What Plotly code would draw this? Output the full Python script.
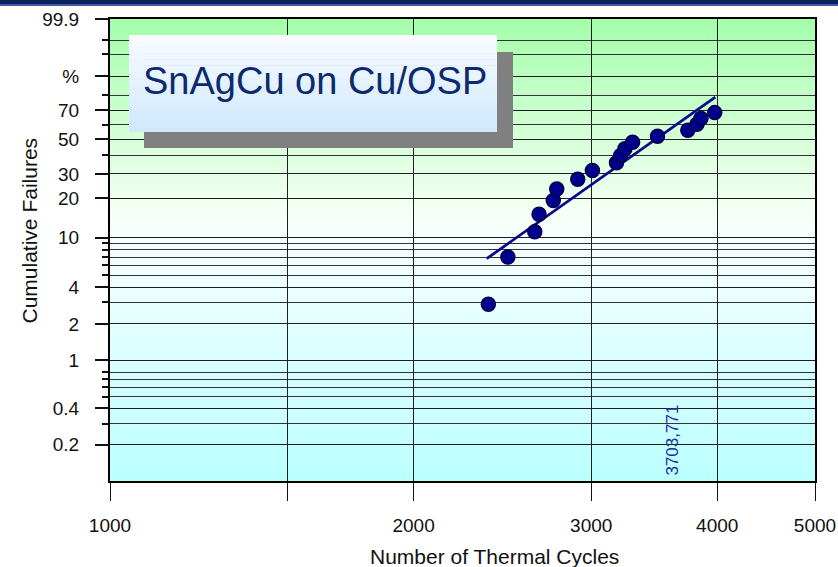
import math
import plotly.graph_objects as go

# ---------------- data ----------------
cycles = [2372, 2480, 2637, 2663, 2751, 2773, 2909, 3008, 3178, 3209,
          3240, 3297, 3490, 3740, 3819, 3854, 3977]
failures_pct = [2.9, 7.0, 11.1, 15.2, 19.3, 23.4, 27.5, 31.6, 35.7, 39.8,
                43.9, 48.0, 52.0, 56.1, 60.2, 64.3, 68.4]
fit_cycles = [2363, 3982]
fit_pct = [6.8, 78.7]
eta_value = 3703.771
eta_label = "3703,771"
title_text = "SnAgCu on Cu/OSP"
x_title = "Number of Thermal Cycles"
y_title = "Cumulative Failures"
y_major_pct = [99.9, 90, 70, 50, 30, 20, 10, 4, 2, 1, 0.4, 0.2]
y_major_text = ["99.9", "%", "70", "50", "30", "20", "10", "4", "2", "1", "0.4", "0.2"]
y_minor_pct = [99, 97, 80, 60, 40, 9, 8, 7, 6, 5, 3, 0.8, 0.7, 0.6, 0.5, 0.3]
x_tick_vals = [1000, 1500, 2000, 3000, 4000, 5000]
x_tick_text = ["1000", "", "2000", "3000", "4000", "5000"]
y_range_pct = [0.1, 99.9]
x_range = [1000, 5000]


def weibull(p):
    """Weibull probability scale: ln(-ln(1-F))."""
    return math.log(-math.log(1.0 - p / 100.0))


FONT = "Liberation Sans, Arial, sans-serif"
W, H = 838, 567
ML, MR, MT, MB = 110, 23, 19, 86
PW, PH = W - ML - MR, H - MT - MB


def dx(px):
    return (px - ML) / PW


def dy(py):
    return (H - MB - py) / PH


fig = go.Figure()

fig.add_trace(go.Scatter(
    x=fit_cycles, y=[weibull(p) for p in fit_pct], mode="lines",
    line=dict(color="#0A0A8A", width=2.8), showlegend=False, hoverinfo="skip"))

fig.add_trace(go.Scatter(
    x=cycles, y=[weibull(p) for p in failures_pct], mode="markers",
    marker=dict(size=14, color="#00008C", line=dict(color="#00004A", width=1.5)),
    showlegend=False))

shapes = []
# background gradient (green top -> white -> cyan bottom)
stops = [(0.0, (163, 255, 170)), (0.42, (246, 255, 246)), (0.5, (246, 255, 255)),
         (1.0, (186, 255, 255))]


def grad(t):
    for (t0, c0), (t1, c1) in zip(stops[:-1], stops[1:]):
        if t0 <= t <= t1:
            f = (t - t0) / (t1 - t0) if t1 > t0 else 0
            return "rgb(%d,%d,%d)" % tuple(round(a + (b - a) * f) for a, b in zip(c0, c1))
    return "rgb(186,255,255)"


N = 90
for i in range(N):
    t = (i + 0.5) / N
    shapes.append(dict(type="rect", xref="x domain", yref="y domain",
                       x0=0, x1=1, y0=1 - (i + 1) / N - 0.002, y1=1 - i / N,
                       fillcolor=grad(t), line=dict(width=0), layer="below"))

# top banner
shapes.append(dict(type="rect", xref="paper", yref="paper",
                   x0=dx(0), x1=dx(W), y0=dy(4), y1=dy(0),
                   fillcolor="#0B1F5E", line=dict(width=0), layer="above"))
shapes.append(dict(type="rect", xref="paper", yref="paper",
                   x0=dx(0), x1=dx(W), y0=dy(6), y1=dy(4),
                   fillcolor="#3A5A9E", line=dict(width=0), layer="above"))

# title box shadow
shapes.append(dict(type="rect", xref="paper", yref="paper",
                   x0=dx(144), x1=dx(513), y0=dy(148), y1=dy(52),
                   fillcolor="#808080", line=dict(width=0), layer="above"))
# title box (vertical gradient)
NB = 16
c_top, c_bot = (248, 252, 255), (208, 232, 252)
for i in range(NB):
    f = (i + 0.5) / NB
    col = "rgb(%d,%d,%d)" % tuple(round(a + (b - a) * f) for a, b in zip(c_top, c_bot))
    y1p = 35 + (132 - 35) * i / NB
    y0p = 35 + (132 - 35) * (i + 1) / NB + 0.5
    shapes.append(dict(type="rect", xref="paper", yref="paper",
                       x0=dx(129), x1=dx(497), y0=dy(min(y0p, 132)), y1=dy(y1p),
                       fillcolor=col, line=dict(width=0), layer="above"))

annotations = [
    dict(text=title_text, xref="paper", yref="paper", x=dx(315), y=dy(81),
         xanchor="center", yanchor="middle", showarrow=False,
         font=dict(family=FONT, size=38, color="#0D2A6E")),
    dict(text=eta_label, xref="x", yref="paper", x=math.log10(eta_value), y=0,
         xanchor="right", yanchor="bottom", yshift=3, textangle=-90, showarrow=False,
         font=dict(family=FONT, size=17, color="#1A2E9A")),
    dict(text=x_title, xref="paper", yref="paper", x=dx(494), y=dy(556),
         xanchor="center", yanchor="middle", showarrow=False,
         font=dict(family=FONT, size=21, color="#111")),
    dict(text=y_title, xref="paper", yref="paper", x=dx(28.5), y=dy(231),
         xanchor="center", yanchor="middle", textangle=-90, showarrow=False,
         font=dict(family=FONT, size=21, color="#111")),
]

fig.update_layout(
    width=W, height=H, margin=dict(l=ML, r=MR, t=MT, b=MB, autoexpand=False),
    paper_bgcolor="white", plot_bgcolor="white",
    shapes=shapes, annotations=annotations,
    font=dict(family=FONT, size=19, color="#111"),
    xaxis=dict(type="log", range=[math.log10(x_range[0]), math.log10(x_range[1])],
               automargin=False,
               tickmode="array", tickvals=x_tick_vals, ticktext=x_tick_text,
               ticks="outside", ticklen=18, tickwidth=1, tickcolor="#111",
               ticklabelstandoff=8,
               showgrid=True, gridcolor="#1E1E1E", gridwidth=1,
               showline=True, linecolor="black", linewidth=2, mirror=True,
               zeroline=False, tickfont=dict(family=FONT, size=19, color="#111")),
    yaxis=dict(range=[weibull(y_range_pct[0]), weibull(y_range_pct[1])],
               automargin=False,
               tickmode="array", tickvals=[weibull(p) for p in y_major_pct],
               ticktext=y_major_text,
               ticks="outside", ticklen=13, tickwidth=1.5, tickcolor="#111",
               ticklabelstandoff=12,
               showgrid=True, gridcolor="#1E1E1E", gridwidth=1,
               minor=dict(tickmode="array", tickvals=[weibull(p) for p in y_minor_pct],
                          ticks="outside", ticklen=6, tickwidth=1.5, tickcolor="#111",
                          showgrid=True, gridcolor="#333333", gridwidth=1),
               showline=True, linecolor="black", linewidth=2, mirror=True,
               zeroline=False, tickfont=dict(family=FONT, size=19, color="#111")),
)

fig.write_html("out.html")
